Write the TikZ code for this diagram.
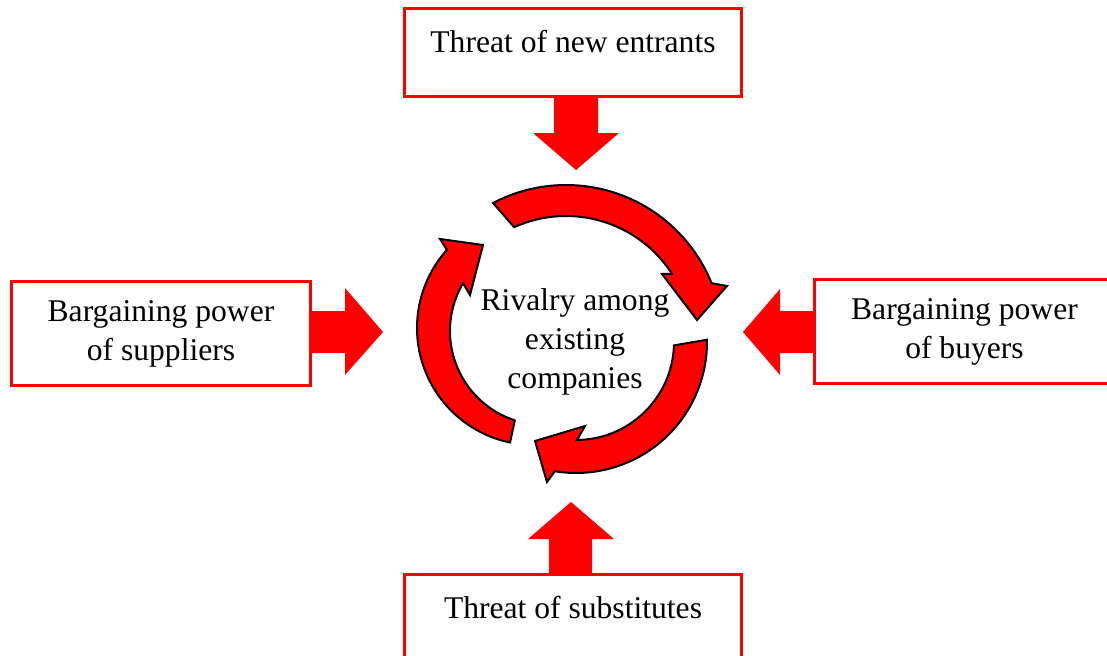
\documentclass[tikz,border=0pt]{standalone}
\usepackage{fontspec}
\setmainfont{Liberation Serif}

\begin{document}
\begin{tikzpicture}[x=0.5pt, y=0.5pt,
    force/.style={draw=red, line width=1.5pt, rectangle, align=center, font=\fontsize{15.8}{19.5}\selectfont},
    push/.style={fill=red},
    rivalry arrow/.style={fill=red, draw=black, line width=1pt, line join=miter}]
  \useasboundingbox (0,0) rectangle (1107,655);
  \clip (0,0) rectangle (1107,655);
  \fill[push] (554,558) -- (554,522) -- (533,522) -- (576,485) -- (619,522) -- (598,522) -- (598,558) -- cycle;
  \fill[push] (549,81) -- (549,116) -- (528,116) -- (571,153) -- (614,116) -- (592,116) -- (592,81) -- cycle;
  \fill[push] (310,344) -- (345,344) -- (345,367) -- (383,323) -- (345,280) -- (345,302) -- (310,302) -- cycle;
  \fill[push] (815,344) -- (780,344) -- (780,366) -- (743,323) -- (780,280) -- (780,302) -- (815,302) -- cycle;
  \node (entrants) [force, minimum width=168.5pt, minimum height=44pt, text height=12pt, text depth=12pt] at (573,602.5) {Threat of new entrants};
  \node (substitutes) [force, minimum width=168.5pt, minimum height=44pt, text height=12pt, text depth=12pt] at (573,37) {Threat of substitutes};
  \node (suppliers) [force, minimum width=149.5pt, minimum height=52pt] at (161,321.5) {Bargaining power\\of suppliers};
  \node (buyers) [force, minimum width=150pt, minimum height=52pt] at (964.5,323.5) {Bargaining power\\of buyers};
  \coordinate (hub1) at (566,313);
  \draw[rivalry arrow] ([shift={(117.7:157)}]hub1) arc[start angle=117.7, end angle=22, radius=157]
    -- (727,369) -- (697,335) -- (662,381)
    -- ([shift={(32.8:126)}]hub1) arc[start angle=32.8, end angle=114.3, radius=126] -- cycle;
  \coordinate (hub2) at (576,313);
  \draw[rivalry arrow] ([shift={(1:131)}]hub2) arc[start angle=1, end angle=-99.3, radius=131]
    -- (547,173) -- (535,214) -- (585,229)
    -- ([shift={(-89.4:98)}]hub2) arc[start angle=-89.4, end angle=-2, radius=98] -- cycle;
  \coordinate (hub3o) at (534,327);
  \coordinate (hub3i) at (544,324);
  \draw[rivalry arrow] ([shift={(-101.8:117)}]hub3o) arc[start angle=-101.8, end angle=-221.9, radius=117]
    -- (440,416) -- (483,410) -- (470,360)
    -- ([shift={(149.4:94)}]hub3i) arc[start angle=149.4, end angle=251.9, radius=94] -- cycle;
  \node (rivalry) [align=center, font=\fontsize{15.8}{19.5}\selectfont] at (575,313) {Rivalry among\\existing\\companies};
\end{tikzpicture}
\end{document}
